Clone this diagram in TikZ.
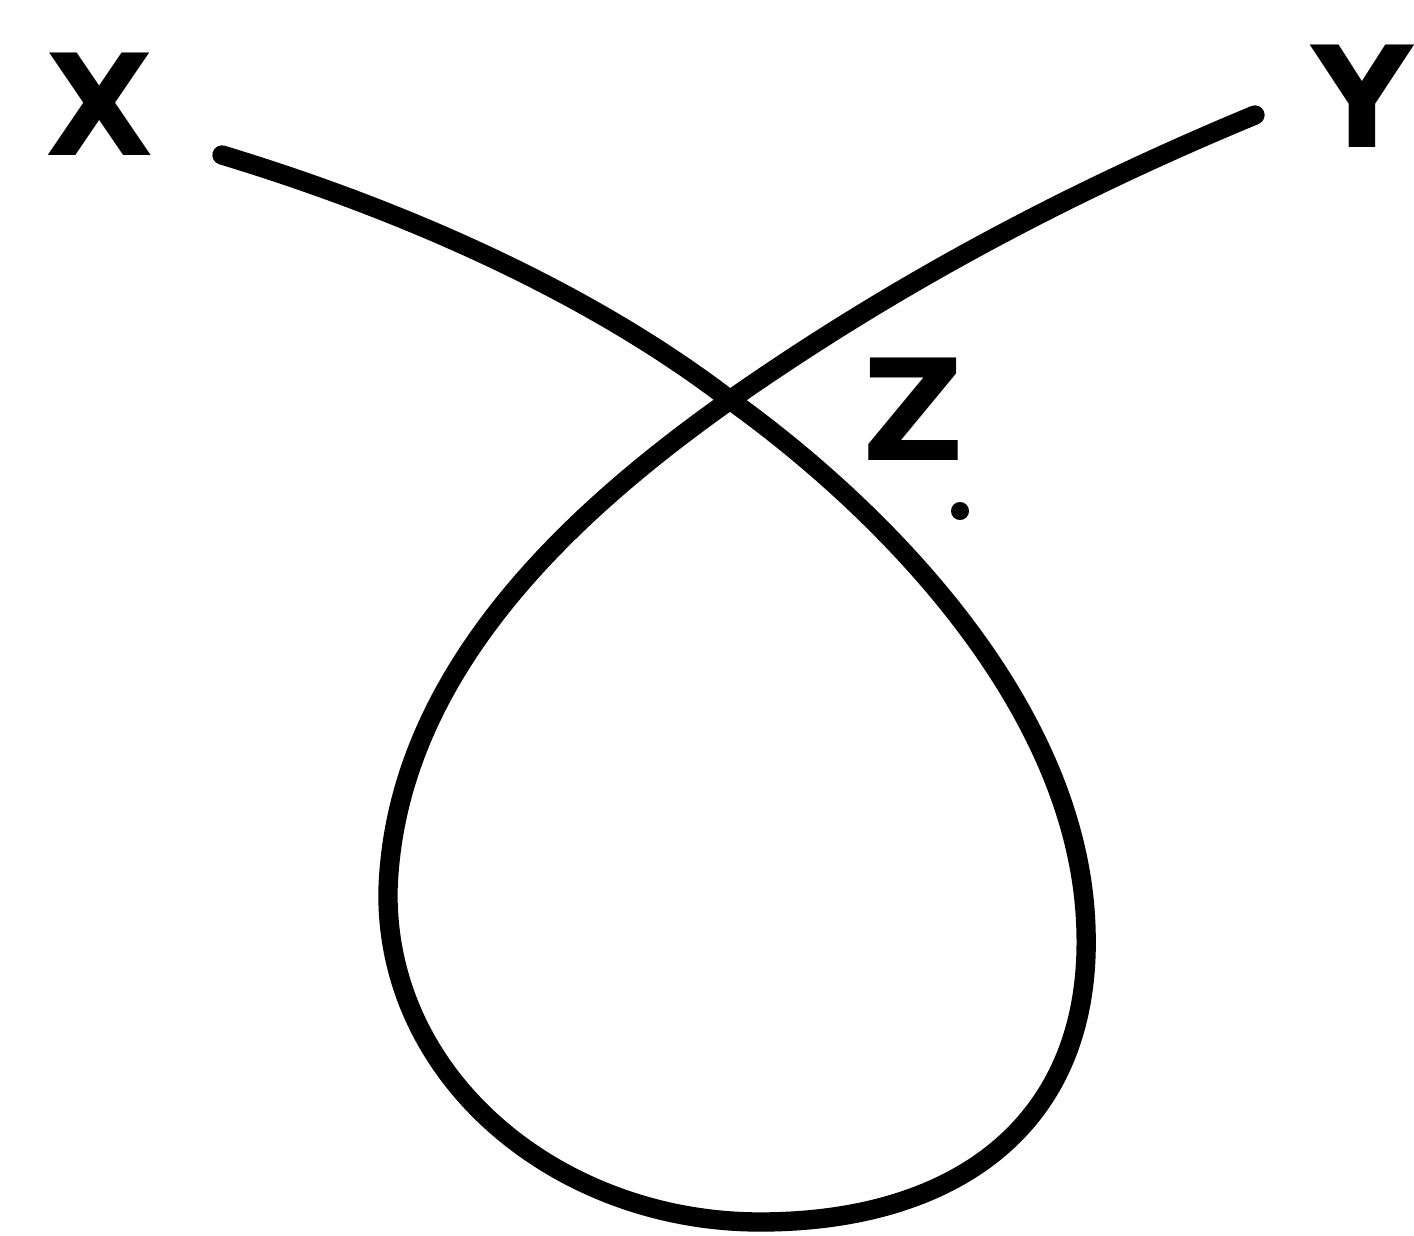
\documentclass[tikz,border=0pt]{standalone}
\usepackage{fontspec}
\setmainfont{DejaVu Sans}
\usepackage{tikz}
\usetikzlibrary{calc,positioning}

\begin{document}
\begin{tikzpicture}[
    x=0.01cm,
    y=-0.01cm,
    letter/.style={
        font=\fontsize{40}{42}\selectfont\bfseries,
        inner sep=0pt
    },
    loopline/.style={
        line width=5.5pt,
        line cap=round,
        line join=round
    }
]

\useasboundingbox (0,0) rectangle (1414,1236);

% =========================================================
% LABELS
% =========================================================

\node[letter] (xlab) at (100,104) {X};
\node[letter] (ylab) at (1362,96) {Y};
\node[letter] (zlab) at (913,409) {Z};
\fill (960,511) circle (9);

% =========================================================
% KEY POINTS OF THE LOOP
% =========================================================

\coordinate (xend) at (222,155);
\coordinate (yend) at (1255,115);
\coordinate (cross) at (730,400);
\coordinate (rgt) at (1086,930);
\coordinate (bot) at (760,1222);
\coordinate (lft) at (388,890);

% =========================================================
% THE LOOP
% =========================================================

\draw[loopline]
    (xend)
    .. controls (420,215) and (600,300) .. (cross)
    .. controls (870,500) and (1080,700) .. (rgt)
    .. controls (1092,1125) and (955,1222) .. (bot)
    .. controls (560,1222) and (385,1080) .. (lft)
    .. controls (395,680) and (560,520) .. (cross)
    .. controls (880,295) and (1050,200) .. (yend);

\end{tikzpicture}
\end{document}
